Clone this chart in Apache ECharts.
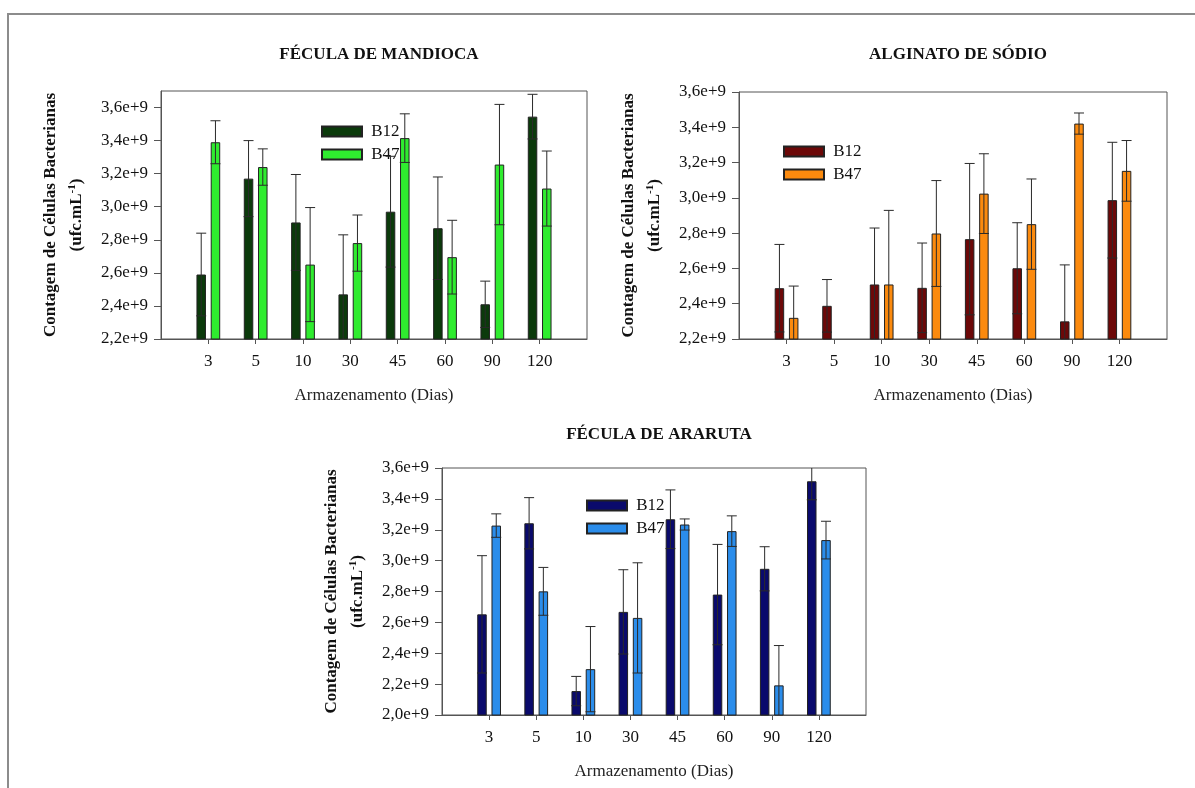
<!DOCTYPE html>
<html>
<head>
<meta charset="utf-8">
<script src="https://cdn.jsdelivr.net/npm/echarts@6/dist/echarts.min.js"></script>
<style>
  html, body { margin: 0; padding: 0; background: #fff; }
  #chart { width: 1195px; height: 788px; }
</style>
</head>
<body>
<div id="chart"></div>
<script>
// Storage days (x categories)
const categories = ['3', '5', '10', '30', '45', '60', '90', '120'];

// Y tick values per panel
const ticksMandioca = [2.2e9, 2.4e9, 2.6e9, 2.8e9, 3.0e9, 3.2e9, 3.4e9, 3.6e9];
const ticksAlginato = [2.2e9, 2.4e9, 2.6e9, 2.8e9, 3.0e9, 3.2e9, 3.4e9, 3.6e9];
const ticksAraruta  = [2.0e9, 2.2e9, 2.4e9, 2.6e9, 2.8e9, 3.0e9, 3.2e9, 3.4e9, 3.6e9];

// Fécula de mandioca: mean counts and standard deviations (ufc/mL)
const mandiocaB12    = [2.59e9, 3.17e9, 2.905e9, 2.47e9, 2.97e9, 2.87e9, 2.41e9, 3.545e9];
const mandiocaB12Err = [0.25e9, 0.23e9, 0.29e9, 0.36e9, 0.335e9, 0.31e9, 0.14e9, 0.135e9];
const mandiocaB47    = [3.39e9, 3.24e9, 2.65e9, 2.78e9, 3.415e9, 2.695e9, 3.255e9, 3.11e9];
const mandiocaB47Err = [0.13e9, 0.11e9, 0.345e9, 0.17e9, 0.147e9, 0.223e9, 0.364e9, 0.227e9];

// Alginato de sódio
const alginatoB12    = [2.488e9, 2.388e9, 2.509e9, 2.49e9, 2.766e9, 2.601e9, 2.30e9, 2.987e9];
const alginatoB12Err = [0.248e9, 0.149e9, 0.32e9, 0.254e9, 0.429e9, 0.258e9, 0.32e9, 0.328e9];
const alginatoB47    = [2.32e9, null, 2.509e9, 2.798e9, 3.024e9, 2.851e9, 3.421e9, 3.153e9];
const alginatoB47Err = [0.18e9, null, 0.42e9, 0.30e9, 0.226e9, 0.256e9, 0.06e9, 0.172e9];

// Fécula de araruta
const ararutaB12    = [2.652e9, 3.242e9, 2.155e9, 2.668e9, 3.268e9, 2.78e9, 2.947e9, 3.514e9];
const ararutaB12Err = [0.38e9, 0.166e9, 0.095e9, 0.273e9, 0.19e9, 0.325e9, 0.143e9, 0.12e9];
const ararutaB47    = [3.227e9, 2.801e9, 2.297e9, 2.629e9, 3.234e9, 3.191e9, 2.192e9, 3.133e9];
const ararutaB47Err = [0.076e9, 0.155e9, 0.276e9, 0.357e9, 0.036e9, 0.099e9, 0.258e9, 0.122e9];

const FONT = 'Liberation Serif, Times New Roman, serif';
const BAR_W = 9.5;
const BAR_GAP = 0.5;
const OFFSET = BAR_W / 2 + (BAR_W * BAR_GAP) / 2;
const CAP = 5;

const panels = [
  {
    key: 'mandioca', title: 'FÉCULA DE MANDIOCA',
    b12: mandiocaB12, b12Err: mandiocaB12Err, b47: mandiocaB47, b47Err: mandiocaB47Err,
    ticks: ticksMandioca, min: 2.2e9, max: 3.7e9,
    colors: ['#0b3a0b', '#2fec2f'],
    grid: { left: 161, top: 91, width: 426, height: 248 },
    legend: { left: 321, top: 123 },
    titleTop: 41
  },
  {
    key: 'alginato', title: 'ALGINATO DE SÓDIO',
    b12: alginatoB12, b12Err: alginatoB12Err, b47: alginatoB47, b47Err: alginatoB47Err,
    ticks: ticksAlginato, min: 2.2e9, max: 3.6e9,
    colors: ['#6c0808', '#fb8a0e'],
    grid: { left: 739, top: 92, width: 428, height: 247 },
    legend: { left: 783, top: 143 },
    titleTop: 41
  },
  {
    key: 'araruta', title: 'FÉCULA DE ARARUTA',
    b12: ararutaB12, b12Err: ararutaB12Err, b47: ararutaB47, b47Err: ararutaB47Err,
    ticks: ticksAraruta, min: 2.0e9, max: 3.6e9,
    colors: ['#0a0a6c', '#2b8deb'],
    grid: { left: 442, top: 468, width: 424, height: 247 },
    legend: { left: 586, top: 497 },
    titleTop: 421
  }
];

const axisCats = [''].concat(categories, ['']);
const fmtY = v => (v / 1e9).toFixed(1).replace('.', ',') + 'e+9';

function errorBars(offset) {
  return function (params, api) {
    const v = api.value(1);
    const e = api.value(2);
    if (v == null || isNaN(v) || e == null || isNaN(e)) return;
    const cs = params.coordSys;
    const top = cs.y, bottom = cs.y + cs.height;
    const idx = api.value(0);
    const x = api.coord([idx, v])[0] + offset;
    const yHi = api.coord([idx, v + e])[1];
    const yLo = api.coord([idx, v - e])[1];
    const clamp = y => Math.min(bottom, Math.max(top, y));
    const style = { stroke: '#2a2a2a', lineWidth: 1, fill: null };
    const children = [{
      type: 'line',
      shape: { x1: x, y1: clamp(yLo), x2: x, y2: clamp(yHi) },
      style: style
    }];
    if (yHi >= top) children.push({ type: 'line', shape: { x1: x - CAP, y1: yHi, x2: x + CAP, y2: yHi }, style: style });
    if (yLo <= bottom) children.push({ type: 'line', shape: { x1: x - CAP, y1: yLo, x2: x + CAP, y2: yLo }, style: style });
    return { type: 'group', children: children };
  };
}

const option = {
  backgroundColor: '#fff',
  animation: false,
  title: [], grid: [], xAxis: [], yAxis: [], legend: [], series: [],
  graphic: [{
    type: 'rect',
    shape: { x: 8, y: 14, width: 1300, height: 900 },
    style: { fill: null, stroke: '#8c8c8c', lineWidth: 2 },
    silent: true
  }]
};

panels.forEach((p, i) => {
  option.title.push({
    text: p.title,
    left: p.grid.left + p.grid.width / 2,
    top: p.titleTop,
    textAlign: 'center',
    textStyle: { fontFamily: FONT, fontSize: 17, fontWeight: 'bold', color: '#111' }
  });
  option.grid.push(Object.assign({
    show: true, borderColor: '#555', borderWidth: 1, backgroundColor: 'transparent'
  }, p.grid));
  option.xAxis.push({
    type: 'category', gridIndex: i, data: axisCats, boundaryGap: false,
    name: 'Armazenamento (Dias)', nameLocation: 'middle', nameGap: 48,
    nameTextStyle: { fontFamily: FONT, fontSize: 17, color: '#222' },
    axisLine: { lineStyle: { color: '#555', width: 1 } },
    axisTick: { show: true, length: 5, interval: idx => idx > 0 && idx < axisCats.length - 1, lineStyle: { color: '#555' } },
    axisLabel: { interval: 0, margin: 14, fontFamily: FONT, fontSize: 17, color: '#111' },
    splitLine: { show: false }
  });
  option.yAxis.push({
    type: 'value', gridIndex: i, min: p.min, max: p.max, interval: 0.2e9,
    name: '{t|Contagem de Células Bacterianas}\n{t|(ufc.mL}{s|-1}{t|)}',
    nameLocation: 'middle', nameRotate: 90, nameGap: 71,
    nameTextStyle: {
      rich: {
        t: { fontFamily: FONT, fontSize: 17, fontWeight: 'bold', color: '#111', lineHeight: 26 },
        s: { fontFamily: FONT, fontSize: 11, fontWeight: 'bold', color: '#111', verticalAlign: 'top', lineHeight: 12, padding: [3, 0, 0, 0] }
      }
    },
    axisLine: { show: true, lineStyle: { color: '#555', width: 1 } },
    axisTick: { show: true, length: 7, customValues: p.ticks, lineStyle: { color: '#555' } },
    axisLabel: { margin: 13, customValues: p.ticks, formatter: fmtY, fontFamily: FONT, fontSize: 17, color: '#111' },
    splitLine: { show: false }
  });
  const n12 = p.key + ':B12', n47 = p.key + ':B47';
  option.legend.push({
    data: [n12, n47], orient: 'vertical', left: p.legend.left, top: p.legend.top,
    itemWidth: 40, itemHeight: 10, itemGap: 6, padding: 0,
    icon: 'rect', selectedMode: false,
    formatter: name => ' ' + name.split(':')[1],
    textStyle: { fontFamily: FONT, fontSize: 17, color: '#111' }
  });
  [[n12, p.b12, p.colors[0]], [n47, p.b47, p.colors[1]]].forEach(s => {
    option.series.push({
      type: 'bar', name: s[0], xAxisIndex: i, yAxisIndex: i,
      barWidth: BAR_W, barGap: (BAR_GAP * 100) + '%',
      itemStyle: { color: s[2], borderColor: '#222', borderWidth: 1 },
      data: s[1].map((v, k) => [k + 1, v])
    });
  });
  [[n12, p.b12, p.b12Err, -OFFSET], [n47, p.b47, p.b47Err, OFFSET]].forEach(s => {
    option.series.push({
      type: 'custom', name: s[0] + ' err', xAxisIndex: i, yAxisIndex: i, z: 5,
      renderItem: errorBars(s[3]),
      data: s[1].map((v, k) => [k + 1, v, s[2][k]])
    });
  });
});

const chart = echarts.init(document.getElementById('chart'), null, { renderer: 'canvas' });
chart.setOption(option);
</script>
</body>
</html>
